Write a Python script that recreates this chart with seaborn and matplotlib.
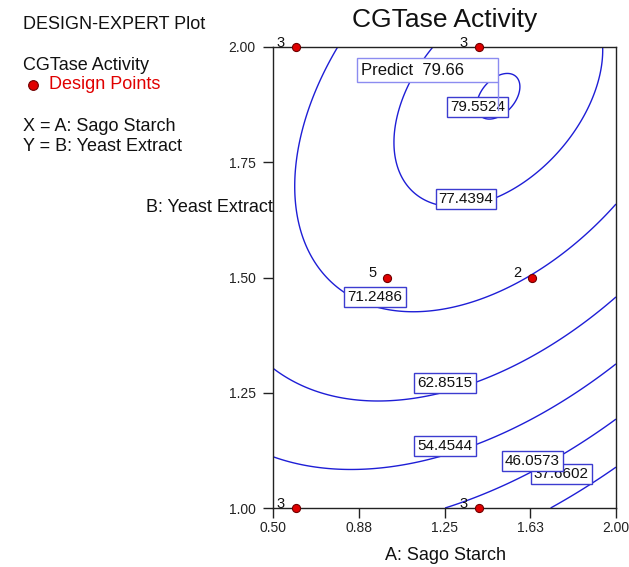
import numpy as np
import pandas as pd
import matplotlib
matplotlib.use("Agg")
import matplotlib.pyplot as plt
from matplotlib.lines import Line2D
from matplotlib.patches import Rectangle
import seaborn as sns

sns.set_theme(style="white")
plt.rcParams['font.family'] = ['Liberation Sans', 'DejaVu Sans']

# ---- data ----
levels = [37.6602, 46.0573, 54.4544, 62.8515, 71.2486, 77.4394, 79.5524]
# quadratic response model: b0 + bA*A + bB*B + bAB*A*B + bAA*A^2 + bBB*B^2
b0, bA, bB, bAB, bAA, bBB = -58.118, -0.542, 145.967, 20.423, -12.832, -46.564

design_x = [0.6, 1.4, 1.0, 1.633, 0.6, 1.4]
design_y = [2.0, 2.0, 1.5, 1.5, 1.0, 1.0]
design_n = ["3", "3", "5", "2", "3", "3"]

label_x = [1.396, 1.344, 0.946, 1.252, 1.252, 1.760, 1.633]
label_y = [1.870, 1.670, 1.458, 1.271, 1.134, 1.074, 1.102]
label_lv = [79.5524, 77.4394, 71.2486, 62.8515, 54.4544, 37.6602, 46.0573]

predict_x, predict_y, predict_val = 1.484, 1.863, 79.66

x_ticks = [0.5, 0.875, 1.25, 1.625, 2.0]
x_ticklabels = ["0.50", "0.88", "1.25", "1.63", "2.00"]
y_ticks = [1.0, 1.25, 1.5, 1.75, 2.0]
y_ticklabels = ["1.00", "1.25", "1.50", "1.75", "2.00"]

# ---- figure ----
W, H = 629, 567
fig = plt.figure(figsize=(W/100, H/100), dpi=100)
ax = fig.add_axes([273/W, 1-508/H, 343/W, 461/H])
ax.set_facecolor('white')

gx, gy = np.meshgrid(np.linspace(0.5, 2.0, 400), np.linspace(1.0, 2.0, 400))
Z = b0 + bA*gx + bB*gy + bAB*gx*gy + bAA*gx**2 + bBB*gy**2
line_col = '#1e1ed6'
ax.contour(gx, gy, Z, levels=levels, colors=line_col, linewidths=1.0, zorder=2)

# contour labels
for lx, ly, lv in zip(label_x, label_y, label_lv):
    ax.text(lx, ly, f"{lv:.4f}", fontsize=11, ha='center', va='center', color='#111111', zorder=4,
            bbox=dict(boxstyle='square,pad=0.2', fc='white', ec='#3c3cd0', lw=1.0))

# prediction flag
ax.add_patch(Rectangle((0.867, 1.924), predict_x - 0.867, 0.052, fc='white', ec='#8c8cf0', lw=1.0, zorder=4))
ax.plot([predict_x, predict_x], [1.924, predict_y], color='#8c8cf0', lw=1.0, zorder=4)
ax.text(0.885, 1.949, f"Predict  {predict_val:.2f}", fontsize=12, ha='left', va='center', color='#111111', zorder=5)

# design points
dp = pd.DataFrame({"A": design_x, "B": design_y, "n": design_n})
sns.scatterplot(data=dp, x="A", y="B", ax=ax, color='#e00000', edgecolor='#700000', linewidth=0.8,
                s=34, zorder=6, clip_on=False, legend=False)
for px_, py_, n in zip(design_x, design_y, design_n):
    ax.annotate(n, (px_, py_), xytext=(-8, 3), textcoords='offset points', ha='right', va='center',
                fontsize=10.5, color='#111111', zorder=7, annotation_clip=False)

ax.set_xlim(0.5, 2.0)
ax.set_ylim(1.0, 2.0)
ax.set_xticks(x_ticks)
ax.set_xticklabels(x_ticklabels)
ax.set_yticks(y_ticks)
ax.set_yticklabels(y_ticklabels)
ax.tick_params(axis='both', direction='out', length=7.5, width=1.0, color='#222222',
               labelsize=10, labelcolor='#222222')
ax.tick_params(axis='x', pad=2)
ax.tick_params(axis='y', pad=5)
ax.tick_params(bottom=True, left=True)
for s in ax.spines.values():
    s.set_color('#222222')
    s.set_linewidth(1.0)
ax.set_xlabel("")
ax.set_ylabel("")

# axis titles
fig.text(445/W, 1-560/H, "A: Sago Starch", fontsize=13, ha='center', va='baseline', color='#111111')
fig.text(273/W, 1-212/H, "B: Yeast Extract", fontsize=13, ha='right', va='baseline', color='#111111')
fig.text(445/W, 1-27/H, "CGTase Activity", fontsize=19, ha='center', va='baseline', color='#111111')

# left panel texts
fig.text(23/W, 1-29/H, "DESIGN-EXPERT Plot", fontsize=13, ha='left', va='baseline', color='#111111')
fig.text(23/W, 1-70/H, "CGTase Activity", fontsize=13, ha='left', va='baseline', color='#111111')
fig.add_artist(Line2D([33/W], [1-85/H], marker='o', markersize=7, color='#e00000',
                      markeredgecolor='#700000', markeredgewidth=0.8, transform=fig.transFigure))
fig.text(49/W, 1-89/H, "Design Points", fontsize=13, ha='left', va='baseline', color='#e00000')
fig.text(23/W, 1-131/H, "X = A: Sago Starch", fontsize=13, ha='left', va='baseline', color='#111111')
fig.text(23/W, 1-151/H, "Y = B: Yeast Extract", fontsize=13, ha='left', va='baseline', color='#111111')

fig.savefig("out.png", dpi=100, facecolor='white')
